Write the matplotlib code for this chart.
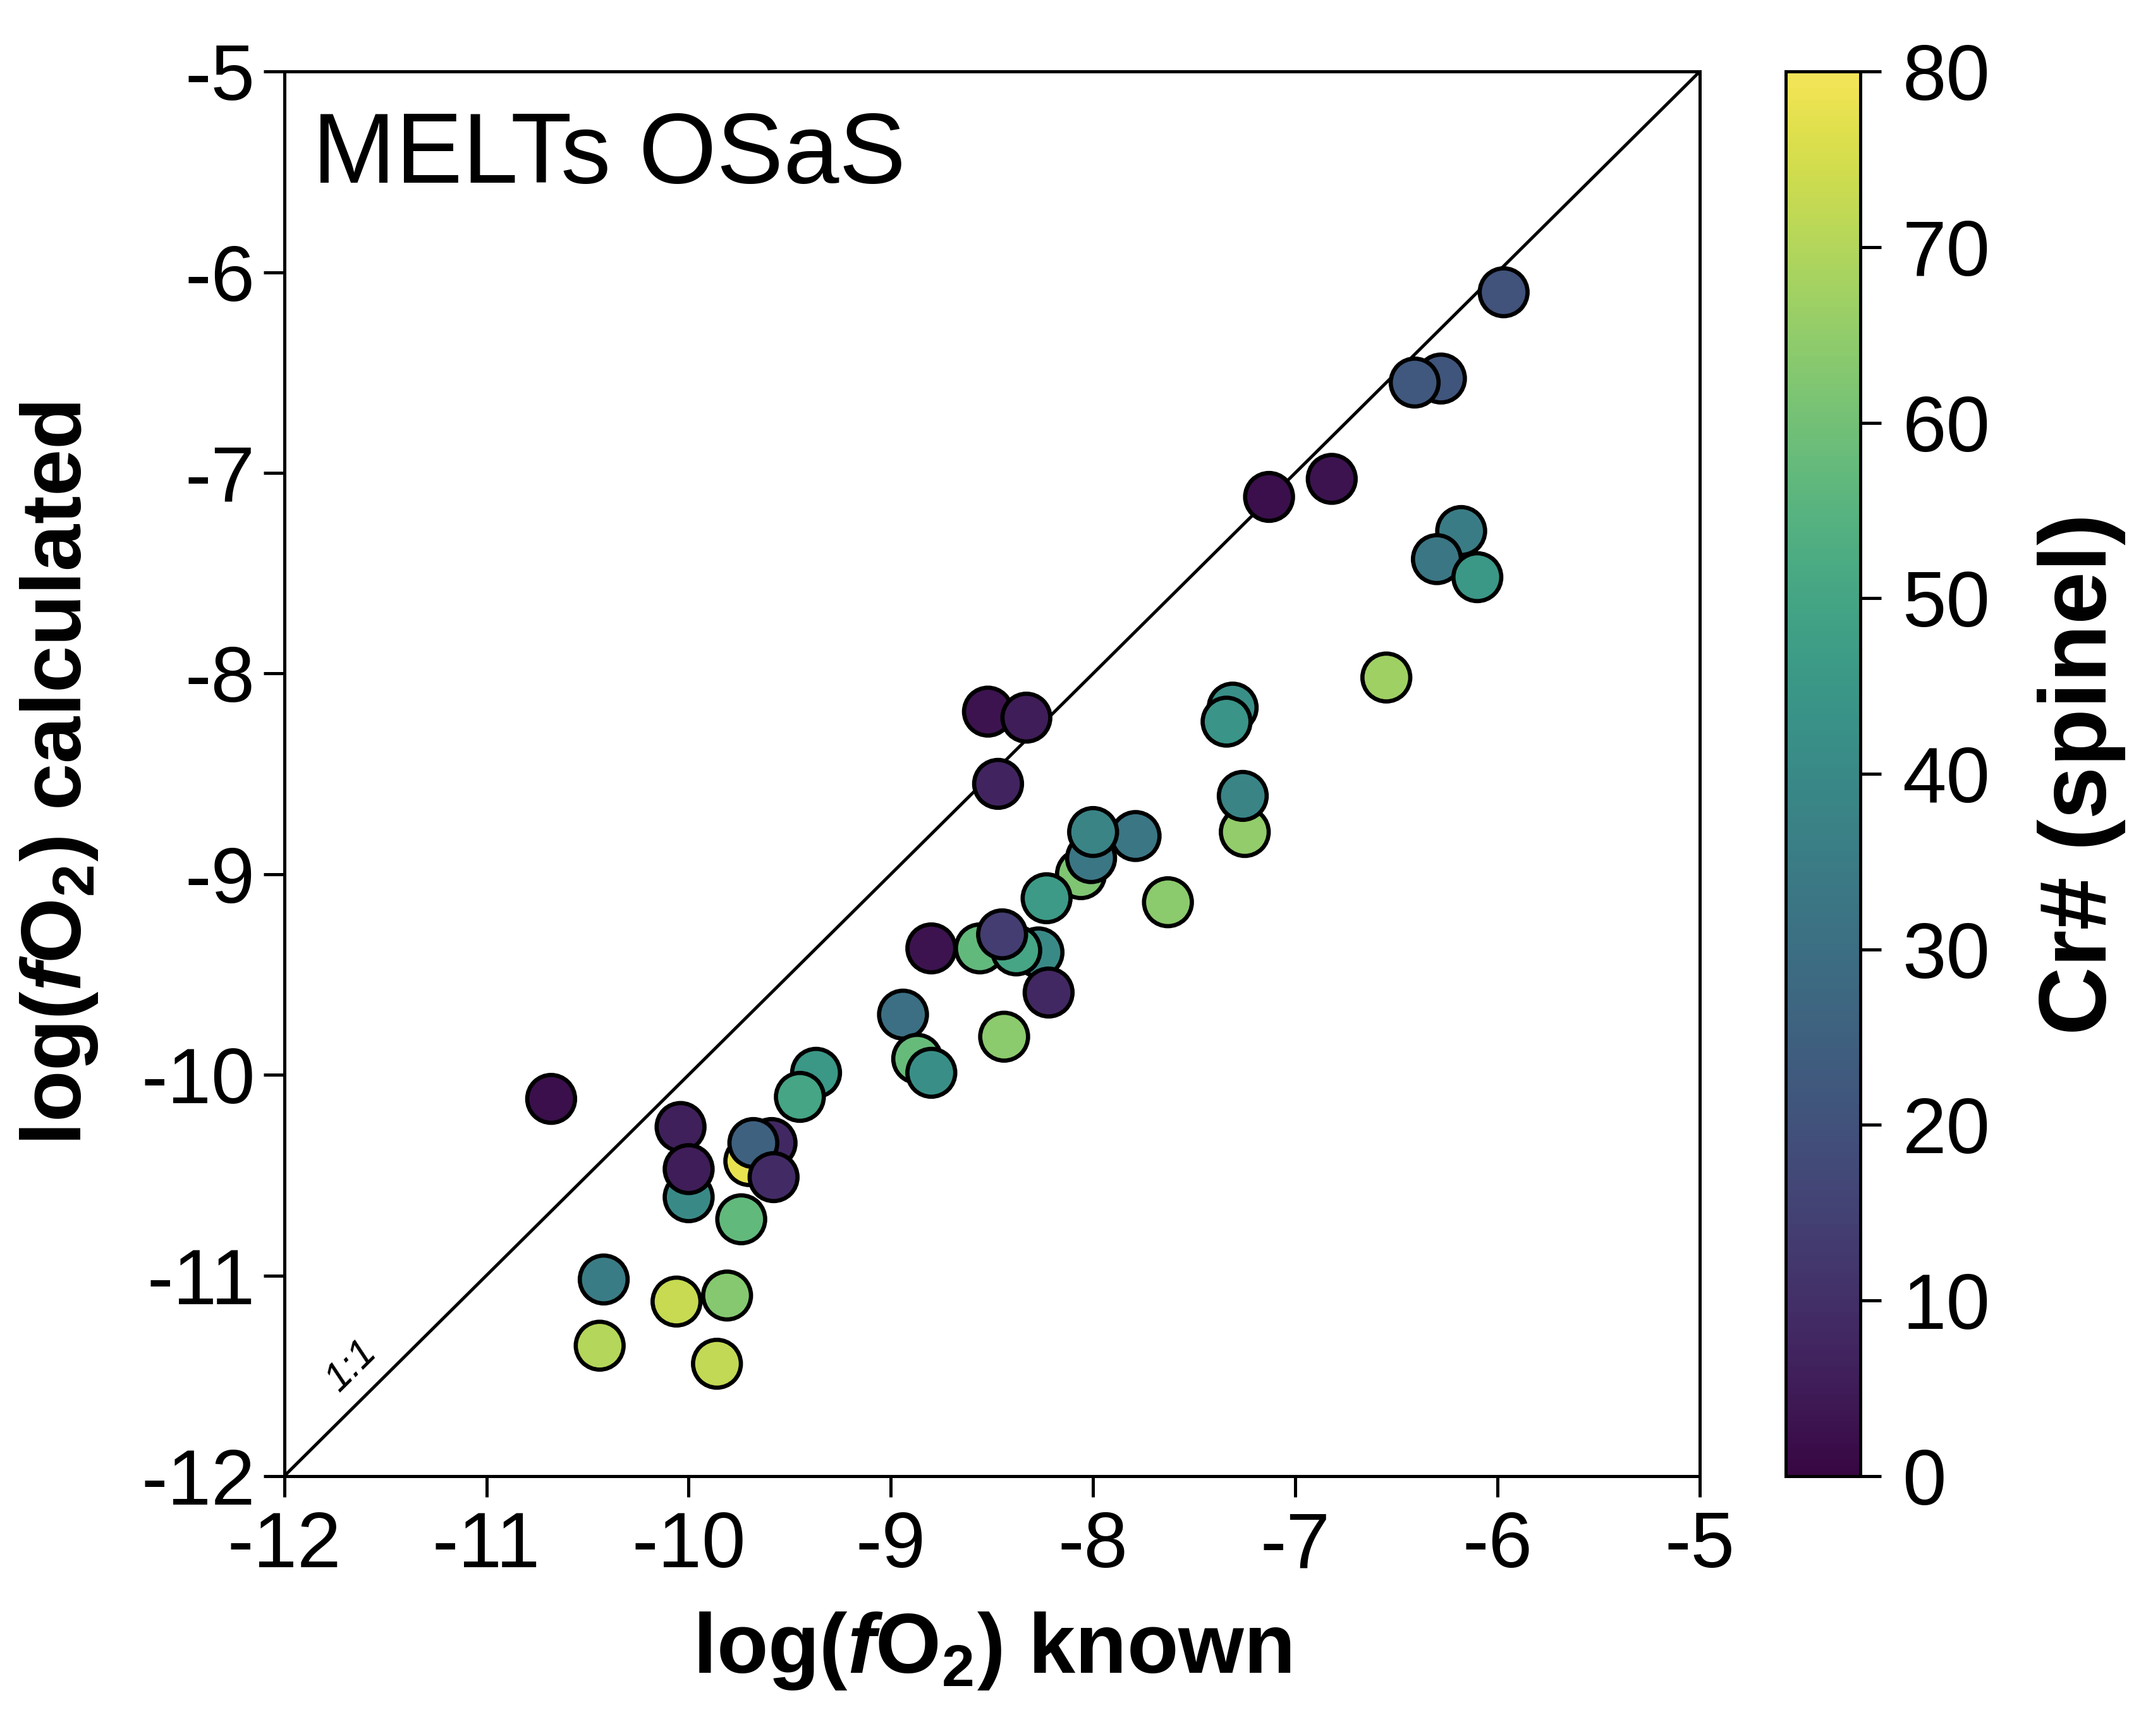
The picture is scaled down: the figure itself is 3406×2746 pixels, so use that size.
# MELTs OSaS - calculated vs known fO2, coloured by spinel Cr#
import numpy as np
import matplotlib
matplotlib.use('Agg')
import matplotlib.pyplot as plt
from matplotlib.colors import ListedColormap

plt.rcParams['font.family'] = ['Liberation Sans', 'DejaVu Sans']
plt.rcParams['axes.unicode_minus'] = False
plt.rcParams['mathtext.fontset'] = 'custom'
plt.rcParams['mathtext.rm'] = 'Liberation Sans:bold'
plt.rcParams['mathtext.it'] = 'Liberation Sans:italic:bold'
plt.rcParams['mathtext.bf'] = 'Liberation Sans:bold'

# data (drawing order)
fo2_known = [-5.97, -6.28, -6.41, -7.13, -6.82, -6.18, -6.30, -6.10, -6.55,
             -7.31, -7.34, -7.25, -7.26, -7.79, -8.06, -8.01, -8.00, -8.23,
             -7.63, -8.52, -8.33, -8.47, -8.80, -8.56, -8.27, -8.38, -8.45,
             -8.22, -8.44, -8.94, -8.87, -8.80, -9.37, -9.45, -10.68, -10.00,
             -10.04, -10.00, -9.70, -9.59, -9.68, -9.58, -9.74, -10.42, -10.06,
             -9.81, -10.44, -9.86]
fo2_calc = [-6.10, -6.53, -6.55, -7.12, -7.03, -7.29, -7.43, -7.52, -8.02,
            -8.17, -8.24, -8.79, -8.61, -8.81, -9.00, -8.92, -8.79, -9.12,
            -9.14, -8.19, -8.22, -8.55, -9.37, -9.37, -9.39, -9.38, -9.30,
            -9.59, -9.81, -9.70, -9.92, -9.99, -9.99, -10.11, -10.12, -10.61,
            -10.26, -10.47, -10.43, -10.34, -10.34, -10.51, -10.72, -11.02, -11.13,
            -11.10, -11.35, -11.44]
cr_number = [20, 21, 22, 2, 3, 35, 33, 45, 67,
             42, 44, 65, 38, 33, 62, 33, 38, 46,
             64, 3, 5, 7, 3, 57, 40, 50, 14,
             8, 64, 30, 58, 42, 45, 50, 2, 40,
             6, 5, 78, 8, 25, 9, 57, 35, 73,
             63, 70, 72]

axis_ticks = [-12, -11, -10, -9, -8, -7, -6, -5]
cbar_ticks = [0, 10, 20, 30, 40, 50, 60, 70, 80]

# slightly muted viridis (the printed figure looks desaturated)
base = plt.get_cmap('viridis')(np.linspace(0, 1, 256))[:, :3]
lum = (base @ np.array([0.2126, 0.7152, 0.0722]))[:, None]
muted = ListedColormap(np.clip(lum + 0.72 * (base - lum), 0, 1))

fig = plt.figure(figsize=(3406 / 300, 2746 / 300), dpi=300)
ax = fig.add_axes([0.132, 0.1497, 0.6575, 0.8091])
cax = fig.add_axes([0.8295, 0.1497, 0.0345, 0.8091])

# 1:1 line
ax.plot([-12, -5], [-12, -5], color='black', lw=1.2, zorder=1)
ax.text(-11.67, -11.45, '1:1', fontsize=15, style='italic', rotation=44.7,
        ha='center', va='center')

sc = ax.scatter(fo2_known, fo2_calc, c=cr_number, cmap=muted, vmin=0, vmax=80,
                s=330, edgecolors='black', linewidths=1.6, zorder=3)

ax.set_xlim(-12, -5)
ax.set_ylim(-12, -5)
ax.set_xticks(axis_ticks)
ax.set_yticks(axis_ticks)
ax.set_xticklabels([str(t) for t in axis_ticks])
ax.set_yticklabels([str(t) for t in axis_ticks])
ax.tick_params(direction='out', length=8, width=1.2, labelsize=30, pad=5)
ax.tick_params(axis='y', pad=3)
for sp in ax.spines.values():
    sp.set_linewidth(1.2)

ax.set_xlabel(r'log($\mathit{f}$O$_2$) known', fontsize=32, fontweight='bold', labelpad=10)
ax.set_ylabel(r'log($\mathit{f}$O$_2$) calculated', fontsize=32, fontweight='bold')
ax.yaxis.set_label_coords(-0.13, 0.5)

ax.text(0.02, 0.921, 'MELTs OSaS', transform=ax.transAxes, fontsize=38,
        ha='left', va='baseline')

cb = fig.colorbar(sc, cax=cax, ticks=cbar_ticks)
cb.outline.set_linewidth(1.2)
cb.ax.tick_params(direction='out', length=8, width=1.2, labelsize=30, pad=8)
cb.set_label('Cr# (spinel)', fontsize=36, fontweight='bold', labelpad=18)

fig.savefig('out.png', dpi=300)
